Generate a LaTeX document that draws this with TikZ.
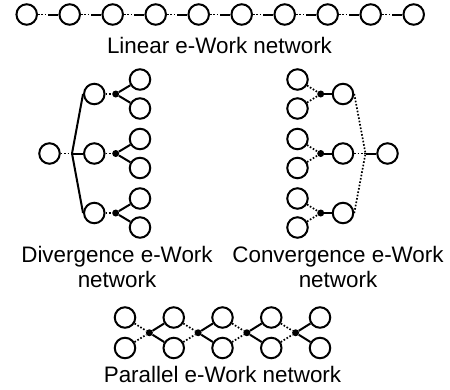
\documentclass[tikz,border=0pt]{standalone}
\usepackage{fontspec}
\setmainfont{Liberation Sans}
\usetikzlibrary{calc}
\begin{document}
\begin{tikzpicture}[x=1pt,y=-1pt,
    task/.style={circle,draw,line width=2pt,minimum size=20.5pt,inner sep=0pt},
    link/.style={line width=2pt},
    dotlink/.style={line width=1.7pt,dash pattern=on 1.6pt off 1.8pt},
    joint/.style={circle,fill,inner sep=0pt,minimum size=7pt},
    caption/.style={font=\fontsize{22.4}{24.7}\selectfont,align=center,anchor=base,inner sep=0pt}]
    \useasboundingbox (0,0) rectangle (450,389);
    \def\dx{43} % spacing of the linear chain
    \def\h{14.5} % half distance of a leaf pair
    \def\px{48.75} % spacing of the parallel columns

    % Linear network
    \foreach \i in {0,...,9} {
        \node[task] (lin\i) at ({26.7+\dx*\i},14.5) {};
    }
    \foreach \i [count=\j] in {0,...,8} {
        \coordinate (linm\i) at ($(lin\i.east)!0.5!(lin\j.west)$);
        \draw[dotlink] (lin\i.east) -- (linm\i);
        \draw[link] (linm\i) -- (lin\j.west);
    }
    \node[caption] (linear) at (219.5,53) {Linear e-Work network};

    % Divergence network
    \node[task] (droot) at (49.5,153.5) {};
    \coordinate (dfork) at (72,153.5);
    \draw[dotlink] (droot.east) -- (dfork);
    \foreach \r [count=\k] in {94,153.5,213} {
        \node[task] (dmid\k) at (94.3,\r) {};
        \node[joint] (djoint\k) at (115.7,\r) {};
        \node[task] (dtop\k) at (140,\r-\h) {};
        \node[task] (dbot\k) at (140,\r+\h) {};
        \draw[link] (dfork) -- (dmid\k.west);
        \draw[dotlink] (dmid\k) -- (djoint\k);
        \draw[link] (djoint\k) -- (dtop\k);
        \draw[link] (djoint\k) -- (dbot\k);
    }
    \node[caption] (diverge) at (117,287) {Divergence e-Work\\network};

    % Convergence network
    \node[task] (croot) at (387.5,153.5) {};
    \coordinate (cfork) at (365.5,153.5);
    \draw[link] (cfork) -- (croot.west);
    \foreach \r [count=\k] in {94,153.5,213} {
        \node[task] (cmid\k) at (343,\r) {};
        \node[joint] (cjoint\k) at (320.7,\r) {};
        \node[task] (ctop\k) at (297.5,\r-\h) {};
        \node[task] (cbot\k) at (297.5,\r+\h) {};
        \draw[dotlink] (cmid\k.east) -- (cfork);
        \draw[link] (cjoint\k) -- (cmid\k);
        \draw[dotlink] (ctop\k) -- (cjoint\k);
        \draw[dotlink] (cbot\k) -- (cjoint\k);
    }
    \node[caption] (converge) at (338,287) {Convergence e-Work\\network};

    % Parallel network
    \foreach \i in {0,...,4} {
        \node[task] (ptop\i) at ({125+\px*\i},317.5) {};
        \node[task] (pbot\i) at ({125+\px*\i},348) {};
    }
    \foreach \i [count=\j] in {0,...,3} {
        \node[joint] (pjoint\i) at ($(ptop\i)!0.5!(pbot\j)$) {};
        \draw[dotlink] (ptop\i) -- (pjoint\i);
        \draw[dotlink] (pbot\i) -- (pjoint\i);
        \draw[link] (pjoint\i) -- (ptop\j);
        \draw[link] (pjoint\i) -- (pbot\j);
    }
    \node[caption] (parallel) at (222.5,382) {Parallel e-Work network};
\end{tikzpicture}
\end{document}
